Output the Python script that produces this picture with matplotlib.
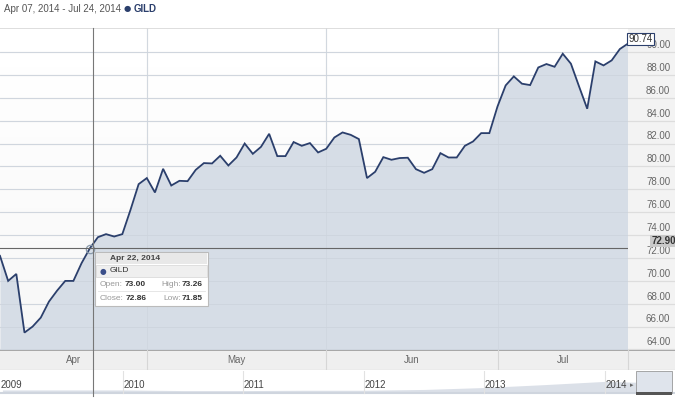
import matplotlib.pyplot as plt
import matplotlib.transforms as mtransforms
from matplotlib.patches import Rectangle
import numpy as np

plt.rcParams['font.family'] = ['Liberation Sans', 'DejaVu Sans']

# GILD daily close, Apr 07 - Jul 24 2014
close = [72.18, 69.99, 70.60, 65.47, 66.00, 66.78, 68.18, 69.14, 69.99, 69.99,
         71.54, 72.82, 73.81, 74.08, 73.87, 74.08, 76.20, 78.45, 78.98, 77.72,
         79.79, 78.33, 78.74, 78.71, 79.70, 80.29, 80.26, 80.93, 80.08, 80.78,
         82.00, 81.10, 81.71, 82.85, 80.90, 80.90, 82.13, 81.80, 82.04, 81.22,
         81.54, 82.53, 82.97, 82.76, 82.39, 78.98, 79.53, 80.81, 80.58, 80.73,
         80.76, 79.76, 79.44, 79.76, 81.16, 80.78, 80.78, 81.80, 82.18, 82.91,
         82.91, 85.24, 87.08, 87.87, 87.23, 87.11, 88.65, 88.95, 88.71, 89.85,
         88.98, 86.99, 85.04, 89.18, 88.83, 89.27, 90.26, 90.74]
months = ['Apr', 'May', 'Jun', 'Jul']
month_starts = [0, 18, 40, 61, 77]   # trading-day index of month boundaries
y_ticks = np.arange(64, 91, 2)

# navigator (long history)
nav_years = [2009, 2009.5, 2010, 2010.5, 2011, 2011.5, 2012, 2012.5, 2013, 2013.5, 2014, 2014.25, 2014.56]
nav_price = [22, 22, 22, 18, 18, 20, 20, 25, 37, 55, 75, 70, 90]
year_labels = [2009, 2010, 2011, 2012, 2013, 2014]
sel_start, sel_end = 2014.26, 2014.56

hover_idx = 11
cross_x = 11.4
cross_y = 72.90
tip_date = 'Apr 22, 2014'
tip_open, tip_high, tip_close, tip_low = 73.00, 73.26, 72.86, 71.85

W, H = 675, 398
NAVY = '#2b3f6c'
FILL = '#d6dde6'
GRID = '#e4e4e4'


def fx(x):
    return x / W


def fy(y):
    return 1 - y / H


fig = plt.figure(figsize=(6.75, 3.98), dpi=100)

plot_top, plot_bot, plot_right = 28, 350, 628
ax = fig.add_axes([0, fy(plot_bot), fx(plot_right), (plot_bot - plot_top) / H])
x = np.arange(len(close))
ylo, yhi = 63.95, 92.1
ax.set_xlim(0, len(close) - 1)
ax.set_ylim(ylo, yhi)
# faint gradient background
grad = np.linspace(1.0, 0.965, 50).reshape(-1, 1)
ax.imshow(grad, extent=[0, len(close) - 1, ylo, yhi], aspect='auto', cmap='gray',
          vmin=0, vmax=1, zorder=0, origin='upper')
for v in y_ticks:
    ax.axhline(v, color=GRID, lw=0.9, zorder=1)
for m in month_starts[1:-1]:
    ax.axvline(m, color=GRID, lw=0.9, zorder=1)
ax.fill_between(x, close, ylo, color=FILL, zorder=2, lw=0)
for m in month_starts[1:-1]:
    ax.axvline(m, color='#cfd6df', lw=0.6, zorder=2.5)
for v in y_ticks:
    ax.axhline(v, color='#cdd4dd', lw=0.6, zorder=2.5)
ax.plot(x, close, color=NAVY, lw=1.3, zorder=3, solid_joinstyle='miter')
ax.axhline(yhi, color='#d8d8d8', lw=1.2, zorder=4)
ax.set_xticks([])
ax.set_yticks([])
for s in ax.spines.values():
    s.set_visible(False)

# hover marker
ax.plot([hover_idx], [close[hover_idx]], 'o', ms=6, mfc='none', mec='#8899aa', mew=0.9, zorder=5)

# right-hand value panel
axr = fig.add_axes([fx(plot_right), fy(plot_bot), fx(W - plot_right), (plot_bot - plot_top) / H])
axr.set_xlim(0, 1)
axr.set_ylim(ylo, yhi)
axr.set_facecolor('#f3f3f3')
for v in y_ticks:
    axr.axhline(v, color='#dddddd', lw=0.9)
    axr.annotate(f'{v:.2f}', xy=(0.9, v), xytext=(0, 1.5), textcoords='offset points',
                 ha='right', va='bottom', fontsize=7, color='#666666')
axr.axhline(yhi, color='#d8d8d8', lw=1.2)
axr.set_xticks([])
axr.set_yticks([])
for s in axr.spines.values():
    s.set_visible(False)

# crosshair
trans_h = mtransforms.blended_transform_factory(ax.transAxes, ax.transData)
ax.plot([0, 652 / plot_right], [cross_y, cross_y], color='#666666', lw=0.8,
        transform=trans_h, clip_on=False, zorder=6)
trans_v = mtransforms.blended_transform_factory(ax.transData, fig.transFigure)
fig.add_artist(plt.Line2D([cross_x, cross_x], [fy(396), fy(plot_top)], color='#777777',
                          lw=0.8, transform=trans_v, zorder=10))

# current value labels
fig.text(fx(663.5), fy(241), f'{cross_y:.2f}', ha='center', va='center', fontsize=7,
         fontweight='bold', color='#333333', zorder=12,
         bbox=dict(boxstyle='square,pad=0.12', fc='#c9c9c9', ec='none'))
fig.text(fx(640.5), fy(39.3), f'{close[-1]:.2f}', ha='center', va='center', fontsize=7,
         color='#333333', zorder=12,
         bbox=dict(boxstyle='square,pad=0.1', fc='white', ec=NAVY, lw=0.8))

# month band
band = fig.add_axes([0, fy(370), 1, 20 / H])
band.set_xlim(0, W)
band.set_ylim(0, 1)
band.set_facecolor('#efefef')
band.set_xticks([])
band.set_yticks([])
for s in band.spines.values():
    s.set_visible(False)
band.axhline(1, color='#9a9a9a', lw=1.2)
band.axhline(0, color='#b5b5b5', lw=0.8)
px_per_idx = plot_right / (len(close) - 1)
for m in month_starts[1:]:
    band.axvline(m * px_per_idx, color='#d6d6d6', lw=0.8)
for i, name in enumerate(months):
    mid = (month_starts[i] + month_starts[i + 1]) / 2 * px_per_idx
    band.text(mid, 0.5, name, ha='center', va='center', fontsize=7, color='#666666')

# navigator
nav = fig.add_axes([0, 0, 1, fy(371)])
nav.set_xlim(2008.98, 2014.585)
nav.set_ylim(-28, 139.6)
nav.set_facecolor('white')
nav.fill_between(nav_years, nav_price, 3, color='#dbe0e8', lw=0)
nav.plot([2008.98, 2014.585], [3, 3], color='#cfd5de', lw=1.5)
for yr in year_labels:
    if yr > 2009:
        nav.plot([yr, yr], [3, 139.6], color='#e2e2e2', lw=0.8)
    nav.text(yr + 0.005 if yr > 2009 else 2008.985, 50, str(yr), ha='left', va='center',
             fontsize=7, color='#444444')
nav.add_patch(Rectangle((sel_start, 3), sel_end - sel_start, 136, fc='#dfe4ec',
                        ec='#999999', lw=0.6, zorder=3))
nav.add_patch(Rectangle((sel_start, -9.4), sel_end - sel_start, 18.6, fc='#555555',
                        ec='none', zorder=4))
nav.text(sel_start - 0.035, 50, '\u25b8', ha='center', va='center', fontsize=5, color='#666666')
nav.set_xticks([])
nav.set_yticks([])
for s in nav.spines.values():
    s.set_visible(False)

# header
fig.text(fx(4), fy(9), 'Apr 07, 2014 - Jul 24, 2014', ha='left', va='center', fontsize=7,
         color='#555555')
fig.text(fx(127), fy(9), '\u25cf', ha='center', va='center', fontsize=6, color=NAVY,
         family=['DejaVu Sans'])
fig.text(fx(134), fy(9), 'GILD', ha='left', va='center', fontsize=7, fontweight='bold',
         color=NAVY)

# tooltip
tip_l, tip_r, tip_t, tip_b = 95, 208, 252, 306
fig.add_artist(Rectangle((fx(tip_l), fy(tip_b)), fx(tip_r - tip_l), (tip_b - tip_t) / H,
                         transform=fig.transFigure, fc='white', ec='#bbbbbb', lw=0.8, zorder=20))
fig.add_artist(Rectangle((fx(tip_l + 1), fy(264)), fx(tip_r - tip_l - 2), 11.5 / H,
                         transform=fig.transFigure, fc='#e8e8e8', ec='none', zorder=21))
fig.add_artist(Rectangle((fx(tip_l + 1), fy(277)), fx(tip_r - tip_l - 2), 12 / H,
                         transform=fig.transFigure, fc='#efefef', ec='#d5d5d5', lw=0.5, zorder=21))
fig.add_artist(plt.Line2D([fx(tip_l + 3), fx(tip_r - 3)], [fy(291), fy(291)],
                          transform=fig.transFigure, color='#e2e2e2', lw=0.6, zorder=21))
fig.text(fx(110), fy(258), tip_date, ha='left', va='center', fontsize=6, fontweight='bold',
         color='#444444', zorder=22)
fig.text(fx(103), fy(271.5), '\u25cf', ha='center', va='center', fontsize=5.5, color='#3b4f8a',
         family=['DejaVu Sans'], zorder=22)
fig.text(fx(110), fy(271), 'GILD', ha='left', va='center', fontsize=6, color='#333333', zorder=22)
rows = [(284, 'Open:', tip_open, 'High:', tip_high), (298, 'Close:', tip_close, 'Low:', tip_low)]
for yy, l1, v1, l2, v2 in rows:
    fig.text(fx(100), fy(yy), l1, ha='left', va='center', fontsize=6, color='#999999', zorder=22)
    fig.text(fx(125 if l1 == 'Open:' else 126), fy(yy), f'{v1:.2f}', ha='left', va='center',
             fontsize=6, fontweight='bold', color='#333333', zorder=22)
    fig.text(fx(181), fy(yy), l2, ha='right', va='center', fontsize=6, color='#999999', zorder=22)
    fig.text(fx(203), fy(yy), f'{v2:.2f}', ha='right', va='center', fontsize=6,
             fontweight='bold', color='#333333', zorder=22)

fig.savefig('out.png', dpi=100)
